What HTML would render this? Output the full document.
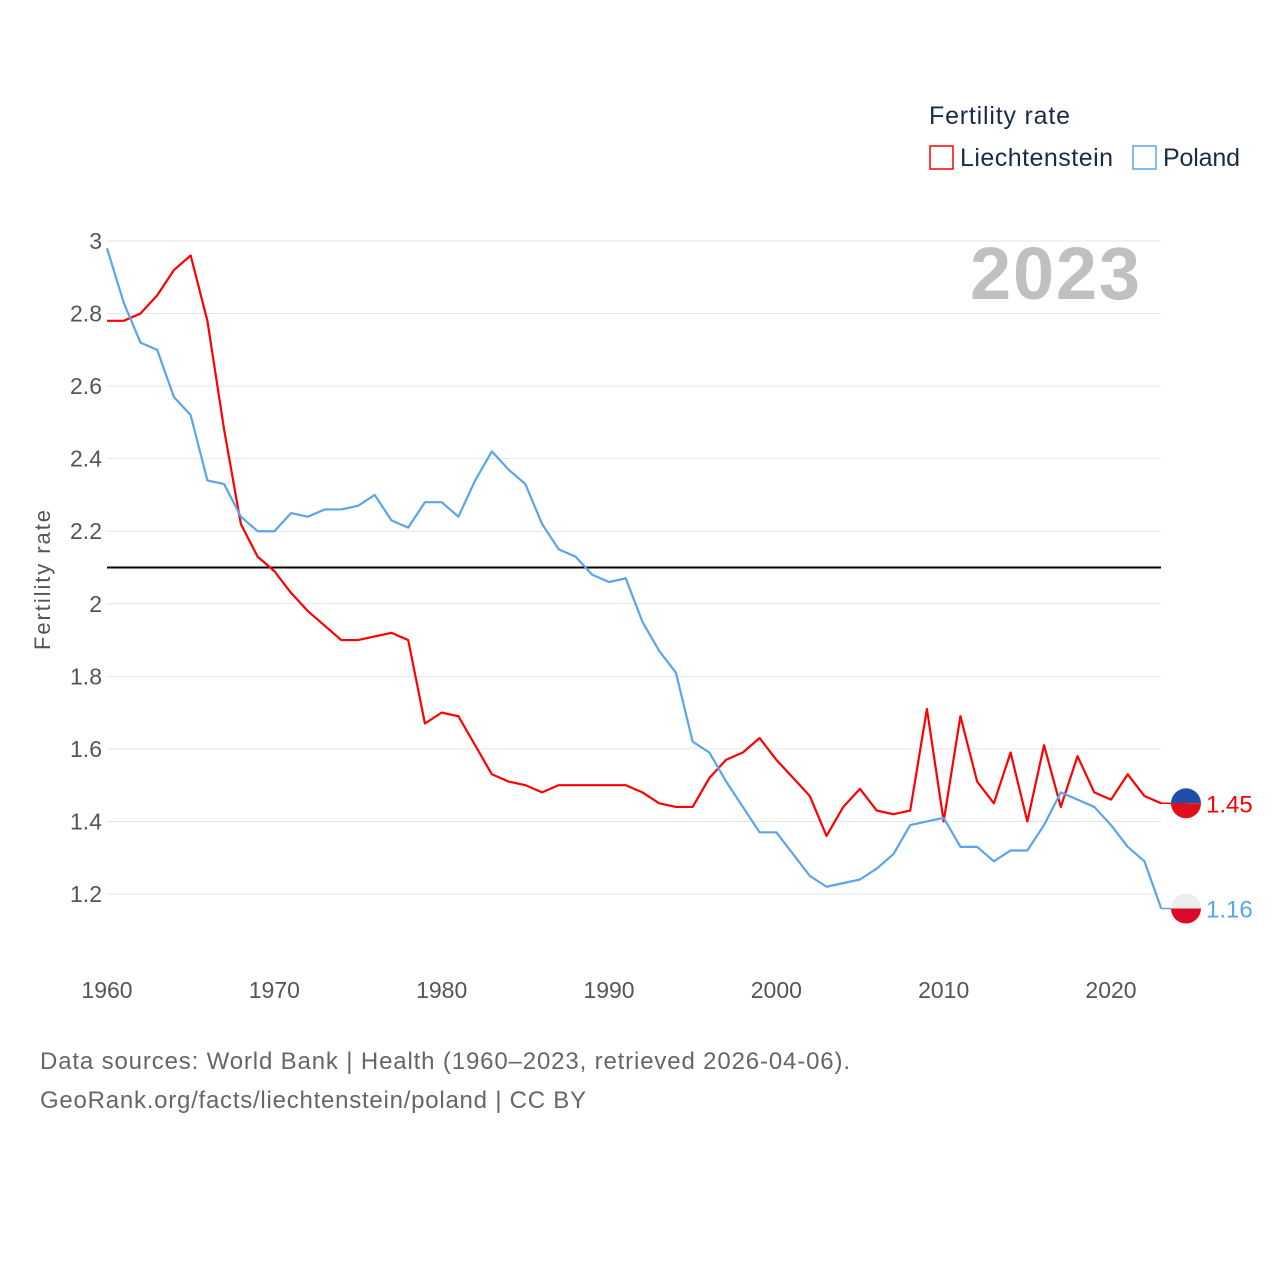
<!DOCTYPE html>
<html><head><meta charset="utf-8"><style>
body{margin:0;background:#fff;font-family:"Liberation Sans",sans-serif}
svg text{font-family:"Liberation Sans",sans-serif}
</style></head><body>
<svg id="c" width="1280" height="1280" viewBox="0 0 1280 1280">
<g id="grid"></g>
<text x="1140" y="299" text-anchor="end" font-size="74" font-weight="bold" fill="#c0c0c0" textLength="170">2023</text>
<text x="929" y="124" font-size="25" fill="#1a2b4a" textLength="141">Fertility rate</text>
<rect x="930" y="146" width="23" height="23" fill="none" stroke="#f00" stroke-width="1.5"/>
<text x="960" y="166" font-size="25" fill="#1a2b4a" textLength="153">Liechtenstein</text>
<rect x="1133" y="146" width="23" height="23" fill="none" stroke="#5aa5ea" stroke-width="1.5"/>
<text x="1163" y="166" font-size="25" fill="#1a2b4a" textLength="77">Poland</text>
<text transform="translate(50,580) rotate(-90)" text-anchor="middle" font-size="22" fill="#555" textLength="140">Fertility rate</text>
<g id="series"></g>
<text x="40" y="1069" font-size="24" fill="#666" textLength="810">Data sources: World Bank | Health (1960–2023, retrieved 2026-04-06).</text>
<text x="40" y="1108" font-size="24" fill="#666" textLength="546">GeoRank.org/facts/liechtenstein/poland | CC BY</text>
</svg>
<script>
const years=[];for(let y=1960;y<=2023;y++)years.push(y);
const liechtenstein=[2.78,2.78,2.80,2.85,2.92,2.96,2.78,2.48,2.22,2.13,2.09,2.03,1.98,1.94,1.90,1.90,1.91,1.92,1.90,1.67,1.70,1.69,1.61,1.53,1.51,1.50,1.48,1.50,1.50,1.50,1.50,1.50,1.48,1.45,1.44,1.44,1.52,1.57,1.59,1.63,1.57,1.52,1.47,1.36,1.44,1.49,1.43,1.42,1.43,1.71,1.40,1.69,1.51,1.45,1.59,1.40,1.61,1.44,1.58,1.48,1.46,1.53,1.47,1.45];
const poland=[2.98,2.83,2.72,2.70,2.57,2.52,2.34,2.33,2.24,2.20,2.20,2.25,2.24,2.26,2.26,2.27,2.30,2.23,2.21,2.28,2.28,2.24,2.34,2.42,2.37,2.33,2.22,2.15,2.13,2.08,2.06,2.07,1.95,1.87,1.81,1.62,1.59,1.51,1.44,1.37,1.37,1.31,1.25,1.22,1.23,1.24,1.27,1.31,1.39,1.40,1.41,1.33,1.33,1.29,1.32,1.32,1.39,1.48,1.46,1.44,1.39,1.33,1.29,1.16];
const yTicks=[1.2,1.4,1.6,1.8,2,2.2,2.4,2.6,2.8,3];
const xTicks=[1960,1970,1980,1990,2000,2010,2020];
const refLine=2.1;
const X=y=>107+(y-1960)*(1111-107)/60;
const Y=v=>241+(3-v)*(894-241)/1.8;
const NS="http://www.w3.org/2000/svg";
function mk(t,a,p){const e=document.createElementNS(NS,t);for(const k in a)e.setAttribute(k,a[k]);p.appendChild(e);return e;}
const g=document.getElementById('grid'),s=document.getElementById('series');
yTicks.forEach(v=>{
 const l=mk('line',{x1:107,x2:1161,y1:Y(v),y2:Y(v),stroke:'#e6e6e6'},g);
 
 
 const t=mk('text',{x:102,y:Y(v)+8,'text-anchor':'end','font-size':23,fill:'#555'},g);
 t.textContent=String(v);
 
 
});
xTicks.forEach(v=>{
 const t=mk('text',{x:X(v),y:998,'text-anchor':'middle','font-size':23,fill:'#555'},g);
 t.textContent=String(v);
 
 
});
const rl=mk('line',{x1:107,x2:1161,y1:Y(refLine),y2:Y(refLine),stroke:'#000','stroke-width':2},g);


function line(vals,col,name){
 const p=mk('polyline',{points:vals.map((v,i)=>X(years[i])+','+Y(v)).join(' '),fill:'none',stroke:col,'stroke-width':2.2,'stroke-linejoin':'round'},s);
 
 
 const last=vals[vals.length-1];
 const ln=mk('line',{x1:X(2023),x2:1186,y1:Y(last),y2:Y(last),stroke:col,'stroke-width':1.5},s);
 
 
 const t=mk('text',{x:1206,y:Y(last)+9,'font-size':24,fill:col},s);
 t.textContent=last.toFixed(2);
 
 
 return Y(last);
}
const yl=line(liechtenstein,'#f00','liechtenstein-line');
const yp=line(poland,'#5aa5ea','poland-line');
function flag(cy,top,bot,name){
 const gg=mk('g',{},s);
 
 
 mk('path',{d:`M1171,${cy} A15,15 0 0 1 1201,${cy} Z`,fill:top},gg);
 mk('path',{d:`M1171,${cy} A15,15 0 0 0 1201,${cy} Z`,fill:bot},gg);
}
flag(yl,'#1f4fa8','#e0101a','liechtenstein-flag');
flag(yp,'#eeeeee','#dc0a28','poland-flag');
</script>
</body></html>
